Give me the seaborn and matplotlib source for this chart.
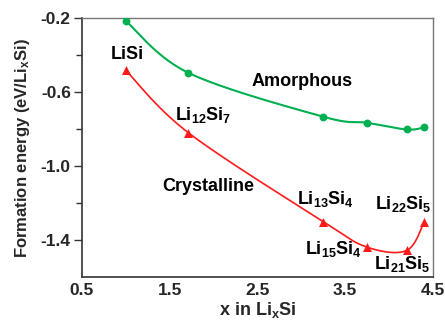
import numpy as np
import pandas as pd
import matplotlib
matplotlib.use("Agg")
import matplotlib.pyplot as plt
import seaborn as sns

# ---- data ----
x_amorphous = [1.0, 1.714, 3.25, 3.75, 4.2, 4.4]
e_amorphous = [-0.215, -0.496, -0.733, -0.766, -0.802, -0.791]

x_crystal = [1.0, 1.714, 3.25, 3.75, 4.2, 4.4]
e_crystal = [-0.482, -0.820, -1.300, -1.438, -1.456, -1.302]

phase_labels = ["LiSi", "Li$_{12}$Si$_{7}$", "Li$_{13}$Si$_{4}$", "Li$_{15}$Si$_{4}$",
                "Li$_{21}$Si$_{5}$", "Li$_{22}$Si$_{5}$"]
x_ticks = [0.5, 1.5, 2.5, 3.5, 4.5]
y_ticks = [-0.2, -0.6, -1.0, -1.4]

GREEN = "#00b050"
RED = "#ff1a1a"

sns.set_theme(style="white")
plt.rcParams["font.family"] = ["Liberation Sans", "DejaVu Sans"]
plt.rcParams["font.weight"] = "bold"
plt.rcParams["mathtext.default"] = "regular"
plt.rcParams["axes.unicode_minus"] = False

XLIM = (0.5, 4.5)
YLIM = (-1.6, -0.2)
AX_W, AX_H = 351.0, 258.0  # axes size in pixels (for smoothing aspect)


def smooth_curve(x, y, n=40):
    """Excel-like Catmull-Rom/Bezier smoothing in screen-proportional space."""
    sx = AX_W / (XLIM[1] - XLIM[0])
    sy = AX_H / (YLIM[1] - YLIM[0])
    P = np.column_stack([np.asarray(x, float) * sx, np.asarray(y, float) * sy])
    Pext = np.vstack([P[0], P, P[-1]])
    t = np.linspace(0, 1, n)[:, None]
    pts = []
    for i in range(len(P) - 1):
        p0, p1, p2, p3 = Pext[i], Pext[i + 1], Pext[i + 2], Pext[i + 3]
        b1 = p1 + (p2 - p0) / 6.0
        b2 = p2 - (p3 - p1) / 6.0
        seg = ((1 - t) ** 3) * p1 + 3 * ((1 - t) ** 2) * t * b1 + 3 * (1 - t) * t ** 2 * b2 + t ** 3 * p2
        pts.append(seg if i == 0 else seg[1:])
    pts = np.vstack(pts)
    return pts[:, 0] / sx, pts[:, 1] / sy


fig = plt.figure(figsize=(4.45, 3.23), dpi=100)
ax = fig.add_axes([0.184, 0.142, 0.789, 0.802])

xs, ys = smooth_curve(x_amorphous, e_amorphous)
sns.lineplot(x=xs, y=ys, ax=ax, color=GREEN, lw=1.5, sort=False)
sns.scatterplot(x=x_amorphous, y=e_amorphous, ax=ax, color=GREEN, marker="o",
                s=32, edgecolor=GREEN, linewidth=0, zorder=3)

xs, ys = smooth_curve(x_crystal, e_crystal)
sns.lineplot(x=xs, y=ys, ax=ax, color=RED, lw=1.2, sort=False)
sns.scatterplot(x=x_crystal, y=e_crystal, ax=ax, color=RED, marker="^",
                s=42, edgecolor=RED, linewidth=0, zorder=3)

txt = dict(fontsize=13, fontweight="bold", ha="center", va="center", color="black")
ax.text(1.02, -0.396, phase_labels[0], **txt)
ax.text(1.88, -0.724, phase_labels[1], **txt)
ax.text(3.275, -1.177, phase_labels[2], **txt)
ax.text(3.37, -1.449, phase_labels[3], **txt)
ax.text(4.15, -1.531, phase_labels[4], **txt)
ax.text(4.158, -1.204, phase_labels[5], **txt)
ax.text(3.004, -0.542, "Amorphous", **txt)
ax.text(1.94, -1.111, "Crystalline", **txt)

ax.set_xlim(*XLIM)
ax.set_ylim(*YLIM)
ax.set_xticks(x_ticks)
ax.set_xticklabels([f"{v:.1f}" for v in x_ticks])
ax.set_yticks(y_ticks)
ax.set_yticklabels([f"{v:.1f}" for v in y_ticks])
ax.set_yticks([-0.4, -0.8, -1.2], minor=True)

ax.tick_params(axis="x", which="major", direction="in", length=5, width=1,
               color="#333333", labelsize=12.5, pad=4)
ax.tick_params(axis="y", which="major", direction="out", length=6, width=1,
               color="#333333", labelsize=12.5, pad=2, left=True)
ax.tick_params(axis="y", which="minor", direction="out", length=4, width=1,
               color="#333333", left=True)
for lab in ax.get_xticklabels() + ax.get_yticklabels():
    lab.set_fontweight("bold")

for side in ["left", "bottom"]:
    ax.spines[side].set_color("#333333")
    ax.spines[side].set_linewidth(1.2)
for side in ["top", "right"]:
    ax.spines[side].set_color("#777777")
    ax.spines[side].set_linewidth(1.0)

ax.set_xlabel("x in Li$_{x}$Si", fontsize=13, fontweight="bold", labelpad=2)
ax.set_ylabel("Formation energy (eV/Li$_{x}$Si)", fontsize=12, fontweight="bold", labelpad=6)

fig.savefig("out.png", dpi=100)
